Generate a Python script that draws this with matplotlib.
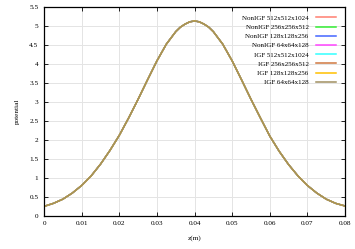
import matplotlib
matplotlib.use('Agg')
import matplotlib.pyplot as plt
import numpy as np

plt.rcParams['font.family'] = ['Liberation Serif', 'DejaVu Serif']

# values, all runs overlap
z = [0.0, 0.0025, 0.005, 0.0075, 0.01, 0.0125, 0.015, 0.0175, 0.02, 0.0225,
     0.025, 0.0275, 0.03, 0.0325, 0.035, 0.03625, 0.0375, 0.03875, 0.04,
     0.04125, 0.0425, 0.04375, 0.045, 0.0475,
     0.05, 0.0525, 0.055, 0.0575, 0.06, 0.0625, 0.065, 0.0675, 0.07, 0.0725,
     0.075, 0.0775, 0.08]
potential = [0.25, 0.33, 0.44, 0.60, 0.80, 1.05, 1.36, 1.72, 2.12, 2.58,
             3.07, 3.58, 4.08, 4.52, 4.85, 4.97, 5.05, 5.11, 5.13,
             5.11, 5.05, 4.97, 4.85, 4.52,
             4.08, 3.58, 3.07, 2.58, 2.10, 1.70, 1.35, 1.05, 0.80, 0.60,
             0.44, 0.33, 0.26]

labels = ['NonIGF 512x512x1024', 'NonIGF 256x256x512', 'NonIGF 128x128x256',
          'NonIGF 64x64x128', 'IGF 512x512x1024', 'IGF 256x256x512',
          'IGF 128x128x256', 'IGF 64x64x128']
colors = ['#ff7f70', '#33ee33', '#4466ff', '#ff44ff', '#33ffff',
          '#d07840', '#ffc000', '#a09060']

fig = plt.figure(figsize=(3.55, 2.49), dpi=100)
ax = fig.add_axes([0.124, 0.133, 0.848, 0.839])

for lab, c in zip(labels, colors):
    ax.plot(z, potential, color=c, lw=1.0, label=lab)

ax.set_xlim(0, 0.08)
ax.set_ylim(0, 5.5)
ax.set_xticks(np.arange(0, 0.081, 0.01))
ax.set_xticklabels(['0', '0.01', '0.02', '0.03', '0.04', '0.05', '0.06', '0.07', '0.08'])
ax.set_yticks(np.arange(0, 5.51, 0.5))
ax.set_yticklabels(['0', '0.5', '1', '1.5', '2', '2.5', '3', '3.5', '4', '4.5', '5', '5.5'])
ax.tick_params(direction='in', length=3, width=0.6, labelsize=5.2,
               top=True, right=True, pad=4)
ax.grid(True, color='#e4e4e4', lw=0.7)
for s in ax.spines.values():
    s.set_linewidth(0.9)

ax.set_xlabel('z(m)', fontsize=5.2, labelpad=6)
ax.set_ylabel('potential', fontsize=5.2, labelpad=7)

leg = ax.legend(loc='upper right', fontsize=5, frameon=False, markerfirst=False,
                handlelength=2.9, handletextpad=1.0, labelspacing=0.48,
                borderaxespad=0.3, bbox_to_anchor=(0.985, 0.985))
for h in leg.get_lines():
    h.set_linewidth(1.1)

fig.savefig('out.png', dpi=100)
